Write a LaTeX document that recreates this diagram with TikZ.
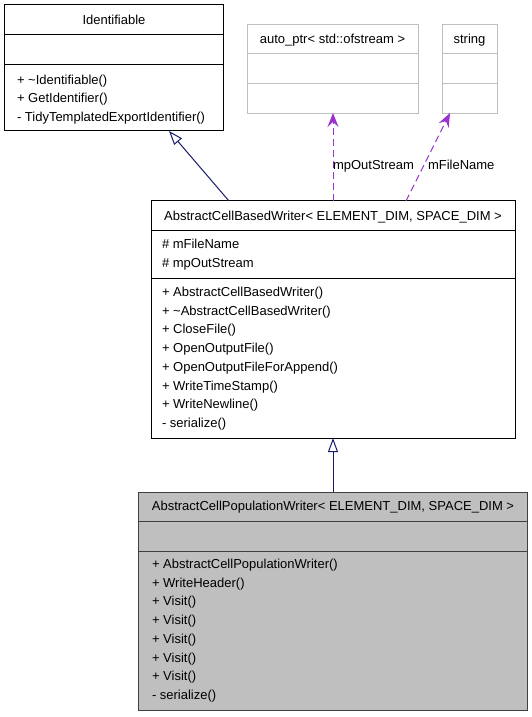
\documentclass[tikz,border=0pt]{standalone}
\usepackage{fontspec}
\setmainfont{Liberation Sans}
\usetikzlibrary{arrows.meta}
\definecolor{navy}{HTML}{191970}
\definecolor{orchid}{HTML}{9A32CD}
\definecolor{lgray}{HTML}{BFBFBF}
\definecolor{dgray}{HTML}{404040}
\begin{document}
\begin{tikzpicture}[x=1bp,y=-1bp,
  every node/.style={font=\fontsize{13bp}{15bp}\selectfont, inner sep=0pt, outer sep=0pt},
  boxframe/.style={draw, line width=1bp, minimum width=#1, inner sep=0pt},
  row/.style={anchor=base west},
  head/.style={anchor=base},
  inherit/.style={draw=navy, line width=1bp, -{Triangle[open,length=14bp,width=10bp,fill=white]}},
  uses/.style={draw=orchid, line width=1bp, dash pattern=on 7bp off 4bp, -{Stealth[length=14bp,width=11bp,inset=5bp]}},
  lbl/.style={anchor=base west}]
\useasboundingbox (0,0) rectangle (532,717);

% Identifiable
\node[draw, line width=1bp, minimum width=218bp, minimum height=125bp] (ident) at (114,67.5) {};
\draw[line width=1bp] (5,35) -- (223,35) (5,65) -- (223,65);
\node[head] (identh) at (114,24.5) {Identifiable};
\node[row] (i1) at (17,84.5) {+ \textasciitilde Identifiable()};
\node[row] (i2) at (17,103) {+ GetIdentifier()};
\node[row] (i3) at (17,121.5) {- TidyTemplatedExportIdentifier()};

% auto_ptr
\node[draw=lgray, line width=1bp, minimum width=171bp, minimum height=88bp] (aptr) at (332.5,69) {};
\draw[lgray, line width=1bp] (247,54) -- (418,54) (247,84) -- (418,84);
\node[head] (aptrh) at (332.5,43.5) {auto\_ptr< std::ofstream >};

% string
\node[draw=lgray, line width=1bp, minimum width=55bp, minimum height=88bp] (str) at (469.5,69) {};
\draw[lgray, line width=1bp] (442,54) -- (497,54) (442,84) -- (497,84);
\node[head] (strh) at (469.5,43.5) {string};

% AbstractCellBasedWriter
\node[draw, line width=1bp, minimum width=364bp, minimum height=237bp] (acbw) at (333,319.5) {};
\draw[line width=1bp] (151,230) -- (515,230) (151,278) -- (515,278);
\node[head] (acbwh) at (333,220.5) {AbstractCellBasedWriter< ELEMENT\_DIM, SPACE\_DIM >};
\node[row] (b1) at (162,248.5) {\# mFileName};
\node[row] (b2) at (162,267) {\# mpOutStream};
\node[row] (b3) at (162,296.5) {+ AbstractCellBasedWriter()};
\node[row] (b4) at (162,315.2) {+ \textasciitilde AbstractCellBasedWriter()};
\node[row] (b5) at (162,333.9) {+ CloseFile()};
\node[row] (b6) at (162,352.6) {+ OpenOutputFile()};
\node[row] (b7) at (162,371.3) {+ OpenOutputFileForAppend()};
\node[row] (b8) at (162,390) {+ WriteTimeStamp()};
\node[row] (b9) at (162,408.7) {+ WriteNewline()};
\node[row] (b10) at (162,427.4) {- serialize()};

% AbstractCellPopulationWriter
\node[draw=dgray, fill=lgray, line width=1bp, minimum width=388bp, minimum height=218bp] (acpw) at (333,601) {};
\draw[dgray, line width=1bp] (139,521) -- (527,521) (139,551) -- (527,551);
\node[head] (acpwh) at (333,510.5) {AbstractCellPopulationWriter< ELEMENT\_DIM, SPACE\_DIM >};
\node[row] (p1) at (152,568.5) {+ AbstractCellPopulationWriter()};
\node[row] (p2) at (152,587.2) {+ WriteHeader()};
\node[row] (p3) at (152,605.9) {+ Visit()};
\node[row] (p4) at (152,624.6) {+ Visit()};
\node[row] (p5) at (152,643.3) {+ Visit()};
\node[row] (p6) at (152,662) {+ Visit()};
\node[row] (p7) at (152,680.7) {+ Visit()};
\node[row] (p8) at (152,699.4) {- serialize()};

% connector endpoints
\coordinate (c1s) at (229,201);
\coordinate (c1e) at (169,131);
\coordinate (c2s) at (333,492);
\coordinate (c2e) at (333,438);
\coordinate (c3s) at (333,201);
\coordinate (c3e) at (333,113);
\coordinate (c4s) at (406,201);
\coordinate (c4e) at (450,113);

\draw[inherit] (c1s) -- (c1e);
\draw[inherit] (c2s) -- (c2e);
\draw[uses] (c3s) -- (c3e);
\draw[uses] (c4s) -- (c4e);

\node[lbl] (l1) at (333,169.5) {mpOutStream};
\node[lbl] (l2) at (428,169.5) {mFileName};
\end{tikzpicture}
\end{document}
